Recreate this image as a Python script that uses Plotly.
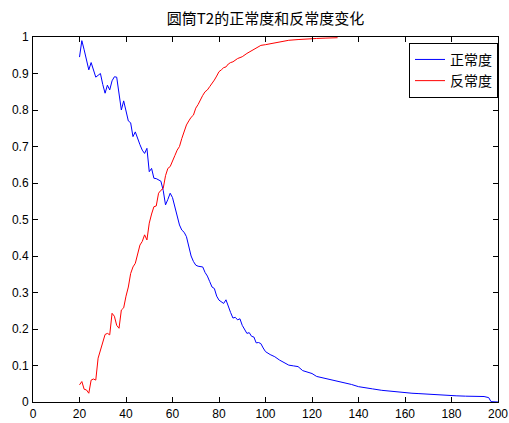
import plotly.graph_objects as go

blue_x = [20,21,22,23,24,25,26,27,28,29,30,31,32,33,34,35,36,37,38,39,40,41,42,43,44,45,46,47,48,49,
          50,51,52,53,54,55,56,57,58,59,60,61,62,63,64,65,66,67,68,69,70,71,72,73,74,75,76,77,78,79,
          80,81,82,83,84,85,86,87,88,89,90,91,92,93,94,95,96,97,98,99,100,102,104,106,108,110,112,114,
          116,118,120,122,125,128,131,134,137,140,143,146,150,154,158,160,163,166,170,174,178,182,186,
          190,194,196,197,200]
blue_y = [0.945,0.99,0.965,0.94,0.91,0.93,0.91,0.89,0.895,0.90,0.87,0.846,0.868,0.855,0.88,0.891,0.89,
          0.84,0.80,0.825,0.80,0.77,0.765,0.727,0.74,0.72,0.705,0.69,0.681,0.695,0.631,0.64,0.613,0.612,
          0.608,0.605,0.58,0.54,0.555,0.572,0.56,0.535,0.51,0.485,0.471,0.465,0.453,0.43,0.40,0.385,0.375,
          0.372,0.372,0.37,0.355,0.345,0.33,0.315,0.311,0.29,0.279,0.275,0.27,0.28,0.26,0.245,0.23,0.232,
          0.225,0.228,0.21,0.2,0.188,0.19,0.18,0.178,0.162,0.163,0.16,0.148,0.138,0.13,0.124,0.115,0.108,
          0.101,0.099,0.097,0.086,0.083,0.078,0.07,0.066,0.06,0.056,0.052,0.048,0.042,0.04,0.036,0.032,
          0.029,0.028,0.026,0.024,0.023,0.021,0.019,0.018,0.017,0.016,0.016,0.015,0.012,0.001,0.0]

red_x = [20,21,22,23,24,25,26,27,28,29,30,31,32,33,34,35,36,37,38,39,40,41,42,43,44,45,46,47,48,49,
         50,51,52,53,54,55,56,57,58,59,60,61,62,63,64,65,66,67,68,69,70,71,72,73,74,75,76,77,78,79,
         80,81,82,83,84,85,86,88,90,92,94,96,98,100,103,106,110,114,118,122,126,131]
red_y = [0.047,0.056,0.035,0.033,0.024,0.06,0.063,0.06,0.12,0.14,0.16,0.185,0.188,0.184,0.243,0.235,
         0.21,0.202,0.252,0.258,0.29,0.315,0.352,0.37,0.38,0.41,0.43,0.44,0.458,0.444,0.49,0.515,0.535,
         0.537,0.572,0.58,0.585,0.62,0.64,0.645,0.663,0.675,0.69,0.70,0.722,0.74,0.759,0.77,0.78,0.786,
         0.805,0.815,0.83,0.84,0.85,0.855,0.864,0.872,0.882,0.893,0.905,0.91,0.916,0.918,0.926,0.93,
         0.932,0.941,0.946,0.955,0.962,0.97,0.977,0.979,0.983,0.986,0.991,0.993,0.995,0.996,0.997,0.998]

title_text = "圆筒T2的正常度和反常度变化"
names = ["正常度", "反常度"]
x_ticks = list(range(0, 201, 20))
y_ticks = [0, 0.1, 0.2, 0.3, 0.4, 0.5, 0.6, 0.7, 0.8, 0.9, 1]

fig = go.Figure()
fig.add_trace(go.Scatter(x=blue_x, y=blue_y, mode="lines", name=names[0],
                         line=dict(color="#0000ff", width=1)))
fig.add_trace(go.Scatter(x=red_x, y=red_y, mode="lines", name=names[1],
                         line=dict(color="#ff0000", width=1)))

axis_common = dict(showgrid=False, zeroline=False, showline=True, linecolor="black", linewidth=1,
                   mirror="ticks", ticks="inside", ticklen=5, tickcolor="black", automargin=False,
                   tickfont=dict(family="Liberation Sans Narrow, Liberation Sans, Arial", size=12,
                                 color="black"))
fig.update_xaxes(range=[0, 200], tickvals=x_ticks, ticklabelstandoff=1, **axis_common)
fig.update_yaxes(range=[0, 1], tickvals=y_ticks, ticklabelstandoff=1, **axis_common)

fig.update_layout(
    width=509, height=423,
    margin=dict(l=33, r=11, t=37, b=21),
    paper_bgcolor="white", plot_bgcolor="white",
    title=dict(text=title_text, x=0.5, xref="paper", xanchor="center",
               y=0.955, yref="container", yanchor="middle",
               font=dict(family="Noto Sans CJK SC", size=15, color="black")),
    legend=dict(x=1.0, y=0.984, xanchor="right", yanchor="top", bgcolor="white",
                bordercolor="black", borderwidth=1,
                font=dict(family="Noto Sans CJK SC", size=14, color="black"),
                tracegroupgap=0),
    showlegend=True,
)

fig.write_html("out.html", config={"displayModeBar": False},
               post_script="document.body.style.margin='0';")
